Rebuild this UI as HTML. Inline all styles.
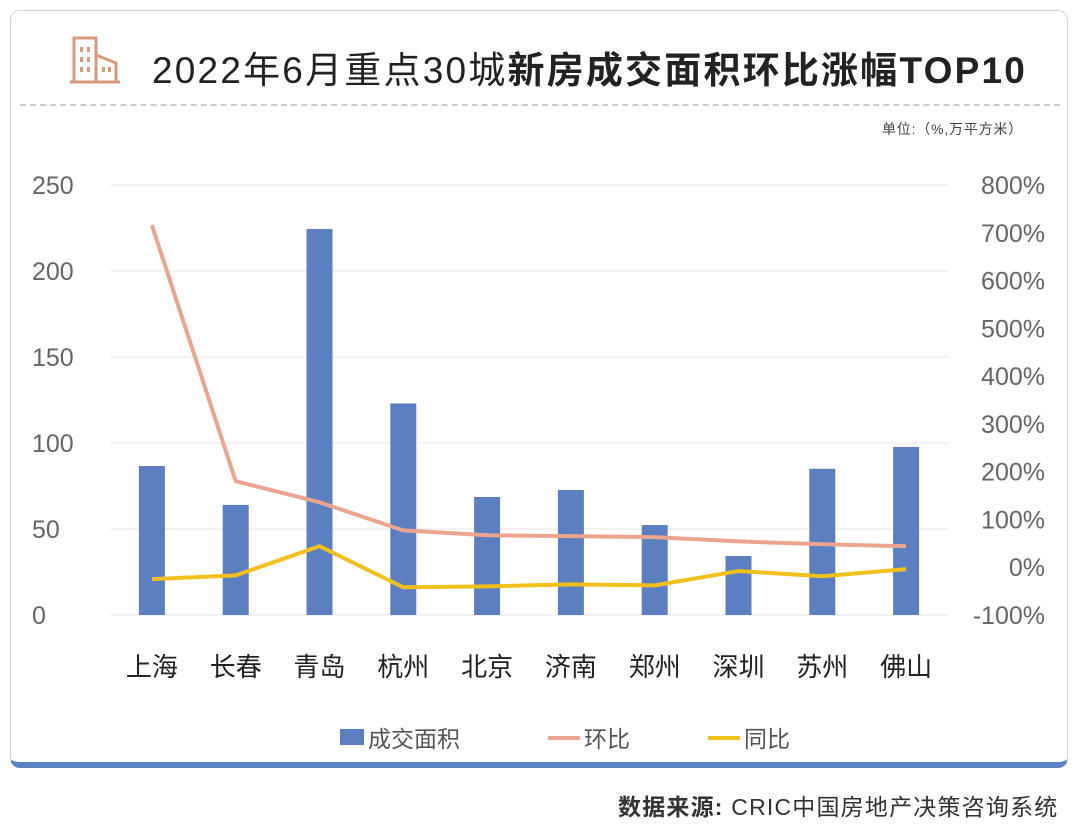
<!DOCTYPE html>
<html><head><meta charset="utf-8"><style>
body{margin:0;width:1080px;height:828px;background:#fff;font-family:"Liberation Sans","Noto Sans CJK SC",sans-serif;overflow:hidden;position:relative}
.card{position:absolute;left:10px;top:10px;width:1058px;height:758px;border:1px solid #c9d3e0;border-bottom:6px solid #5b84c4;border-radius:10px;background:#fff;box-sizing:border-box}
</style></head><body>
<div class="card"></div>
<svg style="position:absolute;left:70px;top:35px" width="52" height="50" viewBox="0 0 52 50">
<g fill="none" stroke="#d99a7c" stroke-width="3"><rect x="4" y="3" width="22" height="44"/><path d="M26 20 L46 28 V47 H26"/><line x1="0" y1="47" x2="50" y2="47"/></g>
<g fill="#d99a7c"><rect x="10" y="12" width="3" height="5"/><rect x="17" y="12" width="3" height="5"/><rect x="10" y="22" width="3" height="5"/><rect x="17" y="22" width="3" height="5"/><rect x="10" y="32" width="3" height="5"/><rect x="17" y="32" width="3" height="5"/><rect x="32" y="32" width="3" height="5"/><rect x="38" y="32" width="3" height="5"/></g></svg>
<div style="position:absolute;left:152px;top:40px;font-size:37px;letter-spacing:2.2px;color:#222;white-space:nowrap">2022年6月重点30城<b>新房成交面积环比涨幅TOP10</b></div>
<div style="position:absolute;left:20px;top:104px;width:1040px;border-top:2px dashed #ccc"></div>
<div style="position:absolute;left:882px;top:119px;font-size:14px;letter-spacing:0.8px;color:#444;white-space:nowrap">单位:（%,万平方米）</div>
<div style="position:absolute;left:618px;top:788px;font-size:23px;letter-spacing:1.2px;color:#333;white-space:nowrap"><b>数据来源:</b> CRIC中国房地产决策咨询系统</div>
<svg id="chart" style="position:absolute;left:0;top:0" width="1080" height="828"></svg>
<script>
const categories=["上海","长春","青岛","杭州","北京","济南","郑州","深圳","苏州","佛山"];
const areaValues=[86.6,64,224.4,123,68.6,72.7,52.3,34.3,85,97.7];
const momValues=[716,180,136,77,67,65,63,54,48,44];
const yoyValues=[-25,-17,44,-42,-40,-36,-38,-8,-19,-4];
const leftTicks=[0,50,100,150,200,250];
const rightTicks=[-100,0,100,200,300,400,500,600,700,800];
const NS="http://www.w3.org/2000/svg",svg=document.getElementById("chart");
const x0=110,x1=948,yTop=185,yBot=615;
const bw=(x1-x0)/categories.length;
const xc=i=>x0+bw*(i+0.5);
const yL=v=>yBot-(v/250)*(yBot-yTop);
const yR=v=>yBot-((v+100)/900)*(yBot-yTop);
function mk(t,a){const e=document.createElementNS(NS,t);for(const k in a)e.setAttribute(k,a[k]);svg.appendChild(e);return e;}
leftTicks.forEach(v=>{
 const g=mk("line",{x1:x0,x2:x1,y1:yL(v),y2:yL(v),stroke:"#e4e4e4","stroke-width":1});
 
 
 const t=mk("text",{x:32,y:yL(v)+9,"font-size":25,fill:"#666"});t.textContent=v;
 
 
});
rightTicks.forEach(v=>{
 const t=mk("text",{x:1045,y:yR(v)+9,"font-size":25,fill:"#666","text-anchor":"end"});t.textContent=v+"%";
 
 
});
categories.forEach((c,i)=>{
 const r=mk("rect",{x:xc(i)-13,y:yL(areaValues[i]),width:26,height:yBot-yL(areaValues[i]),fill:"#5b7fc0"});
 
 
 const t=mk("text",{x:xc(i),y:676,"font-size":26,fill:"#222","text-anchor":"middle"});t.textContent=c;
 
 
});
function line(vals,col,name){
 const p=mk("polyline",{points:vals.map((v,i)=>xc(i)+","+yR(v)).join(" "),fill:"none",stroke:col,"stroke-width":4,"stroke-linejoin":"round"});
 
 
}
line(momValues,"#eba58e","mom-line");
line(yoyValues,"#f2c01c","yoy-line");
const lg=[["rect","#5b7fc0","成交面积",340],["line","#eba58e","环比",548],["line","#f2c01c","同比",708]];
lg.forEach(([k,col,txt,x])=>{
 if(k==="rect"){const r=mk("rect",{x:x,y:729,width:24,height:16,fill:col});}
 else{const l=mk("line",{x1:x,x2:x+32,y1:738,y2:738,stroke:col,"stroke-width":4});}
 const t=mk("text",{x:x+(k==="rect"?28:36),y:747,"font-size":23,fill:"#555"});t.textContent=txt;
 
 
});
</script>
</body></html>
